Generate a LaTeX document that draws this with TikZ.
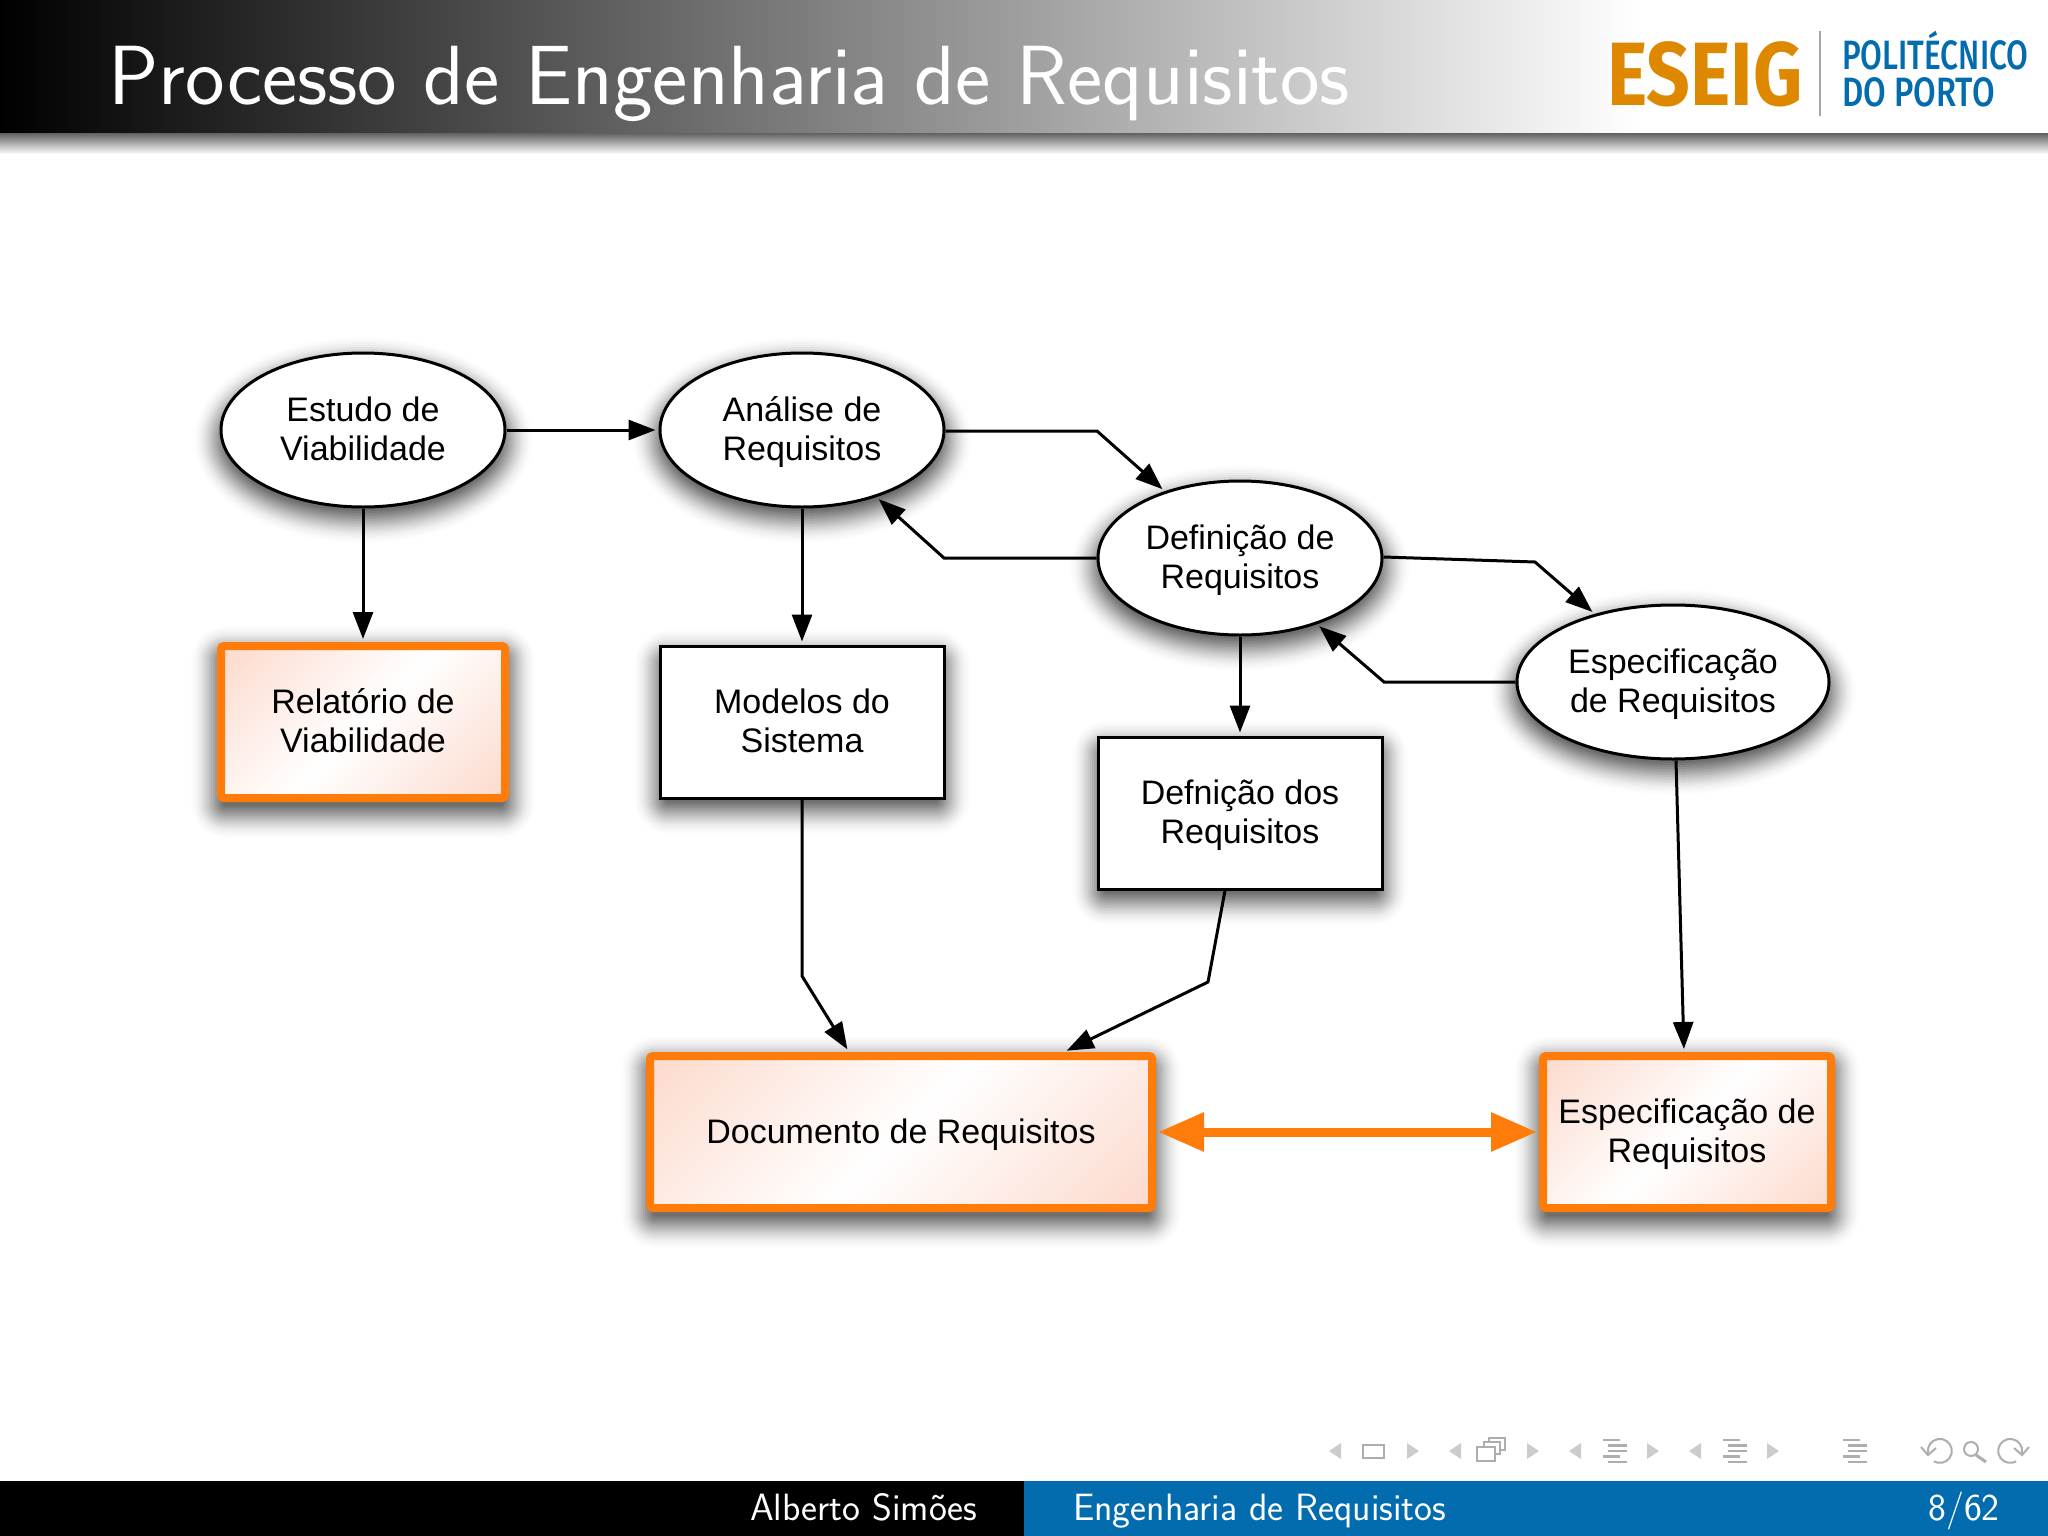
\documentclass[tikz,border=0pt]{standalone}
\usepackage{fontspec}
\newfontfamily\diagfont{Liberation Sans}
\newfontfamily\logofont{Fira Sans}
\newfontfamily\polifont{Fira Sans Medium}
\usetikzlibrary{arrows.meta}
\usetikzlibrary{calc}
\usetikzlibrary{shapes.geometric}
\definecolor{laranja}{HTML}{FF7C0A}
\definecolor{rosado}{HTML}{FCDACC}
\definecolor{azul}{HTML}{036CAE}
\definecolor{ouro}{HTML}{DE8800}
\definecolor{navcinza}{HTML}{AEAEAE}
\definecolor{navclaro}{HTML}{CCCCCC}
\pgfdeclareverticalshading{rosa}{100bp}{color(0bp)=(rosado); color(15bp)=(rosado); color(50bp)=(white);
  color(85bp)=(rosado); color(100bp)=(rosado)}
\newcommand{\topo}{\rule{0pt}{32pt}}
\newcommand{\fundo}{\rule[-10pt]{0pt}{10pt}}
\newcommand{\duas}[2]{\topo #1\\#2\fundo}
\newcommand{\camadas}{26/.008,24/.012,22/.016,20/.02,18/.025,16/.03,14/.035,12/.04,10/.045,8/.05,6/.055,4/.06,2/.065,0/.07,-2/.075,-4/.08,-6/.08}
\newcommand{\sombraelipse}[4]{%
  \foreach \d/\a in \camadas
    \fill[black, opacity=\a] (#1,#2+10) ellipse[x radius=#3+\d, y radius=#4+\d];}
\newcommand{\sombracaixa}[4]{%
  \foreach \d/\a in \camadas
    \fill[black, opacity=\a, rounded corners=(\d+8)*1pt] (#1-#3-\d,#2+10-#4-\d) rectangle (#1+#3+\d,#2+10+#4+\d);}
\tikzset{
  etapa/.style={ellipse, draw, line width=3pt, fill=white, inner sep=0pt, minimum height=154pt,
    align=center, font=\diagfont\fontsize{34}{39}\selectfont},
  doc/.style={rectangle, draw, line width=3pt, fill=white, inner sep=0pt, minimum width=284pt, minimum height=152pt,
    align=center, font=\diagfont\fontsize{34}{39}\selectfont},
  saida/.style={doc, line width=8pt, draw=laranja, rounded corners=3pt, shade, shading=rosa, shading angle=45},
  seta/.style={line width=3pt, -{Triangle[length=27pt,width=20pt]}, shorten >=3pt},
  setadupla/.style={line width=9pt, color=laranja, {Triangle[length=46pt,width=37pt]}-{Triangle[length=46pt,width=37pt]}, shorten >=2pt, shorten <=2pt},
  navlin/.style={navcinza, line width=2.5pt}
}
\begin{document}
\begin{tikzpicture}[x=1pt,y=-1pt]
      \useasboundingbox (0,0) rectangle (2048,1536);
      \fill[white] (0,0) rectangle (2048,1536);

      % barra de titulo
      \fill[top color=black!65, bottom color=white] (0,132) rectangle (2048,154);
      \fill[white] (1630,0) rectangle (2048,133);
      \fill[left color=black, right color=white] (0,0) rectangle (1640,133);
      \node[anchor=west, inner sep=0pt, white, font=\sffamily\fontsize{84}{90}\selectfont] (titulo) at (108,84)
        {Processo de Engenharia de Requisitos};
      \node[anchor=west, inner sep=0pt, ouro, xscale=.85, font=\logofont\bfseries\fontsize{90}{90}\selectfont] (eseig) at (1607,74) {ESEIG};
      \node[anchor=base west, inner sep=0pt, azul, xscale=.77, font=\polifont\fontsize{41}{41}\selectfont] (poli) at (1842,70) {POLITÉCNICO};
      \node[anchor=base west, inner sep=0pt, azul, xscale=.8, font=\polifont\fontsize{41}{41}\selectfont] (porto) at (1842,107) {DO PORTO};
      \draw[gray!70, line width=1.5pt] (1820,31) -- (1820,116);

      % sombras
      \sombraelipse{363}{430}{143.5}{77}
      \sombraelipse{802}{430}{143.5}{77}
      \sombraelipse{1240}{558}{143.5}{77}
      \sombraelipse{1673}{682}{157.5}{77}
      \sombracaixa{363}{722}{146}{80}
      \sombracaixa{802}{722}{142}{76}
      \sombracaixa{1240}{813}{142}{76}
      \sombracaixa{901}{1132}{254}{80}
      \sombracaixa{1687}{1132}{147}{80}

      % nos
      \node[etapa, minimum width=284pt] (estudo) at (363,430) {\duas{Estudo de}{Viabilidade}};
      \node[etapa, minimum width=284pt] (analise) at (802,430) {\duas{Análise de}{Requisitos}};
      \node[etapa, minimum width=284pt] (definicao) at (1240,558) {\duas{Definição de}{Requisitos}};
      \node[etapa, minimum width=312pt] (especificacao) at (1673,682) {\duas{Especificação}{de Requisitos}};
      \node[saida] (relatorio) at (363,722) {\duas{Relatório de}{Viabilidade}};
      \node[doc] (modelos) at (802,722) {\duas{Modelos do}{Sistema}};
      \node[doc] (defreq) at (1240,813) {\duas{Defnição dos}{Requisitos}};
      \node[saida, minimum width=502pt] (documento) at (901,1132) {\topo Documento de Requisitos\fundo};
      \node[saida, minimum width=288pt] (espreq) at (1687,1132) {\duas{Especificação de}{Requisitos}};

      \coordinate (k1) at (1097,431);
      \coordinate (k2) at (944,558);
      \coordinate (k3) at (1535,562);
      \coordinate (k4) at (1384,682);
      \coordinate (k5) at (802,976);
      \coordinate (k6) at (1208,982);

      % setas
      \path[seta] (estudo) edge (analise);
      \path[seta] (estudo) edge (relatorio);
      \path[seta] (analise) edge (modelos);
      \path[seta] (definicao) edge (defreq);
      \path[seta] ([xshift=3pt]especificacao.south) edge ([xshift=-3pt]espreq.north);
      \draw[seta] (analise.east |- k1) -- (k1) -- (definicao);
      \draw[seta] (definicao.west |- k2) -- (k2) -- (analise);
      \draw[seta] ([yshift=1pt]definicao.east) -- (k3) -- (especificacao);
      \draw[seta] (especificacao.west |- k4) -- (k4) -- (definicao);
      \draw[seta] (modelos.south) -- (k5) -- ([xshift=-52pt]documento.north);
      \draw[seta] ([xshift=-15pt]defreq.south) -- (k6) -- ([xshift=163pt]documento.north);
      \path[setadupla] (documento) edge (espreq);

      % rodape
      \fill[black] (0,1481) rectangle (1024,1536);
      \fill[azul] (1024,1481) rectangle (2048,1536);
      \node[anchor=base west, inner sep=0pt, white, font=\sffamily\fontsize{38}{40}\selectfont] (autor) at (750,1520) {Alberto Simões};
      \node[anchor=base west, inner sep=0pt, white, font=\sffamily\fontsize{38}{40}\selectfont] (curso) at (1073,1520) {Engenharia de Requisitos};
      \node[anchor=base east, inner sep=0pt, white, font=\sffamily\fontsize{38}{40}\selectfont] (pagina) at (2000,1520) {8/62};

      % navegacao
      \foreach \xa in {1335,1455,1575,1695}
        \fill[navclaro] (\xa-6,1451) -- (\xa+6,1443) -- (\xa+6,1459) -- cycle;
      \foreach \xa in {1413,1533,1653,1773}
        \fill[navclaro] (\xa+6,1451) -- (\xa-6,1443) -- (\xa-6,1459) -- cycle;
      \draw[navlin] (1363,1445) rectangle (1384,1458);
      \draw[navlin, fill=white] (1489,1438) rectangle (1505,1450);
      \draw[navlin, fill=white] (1484,1442) rectangle (1500,1454);
      \draw[navlin, fill=white] (1477,1447) rectangle (1495,1461);
      \foreach \xa in {1615,1735,1855} {
        \draw[navlin] (\xa-12,1440) -- (\xa+5,1440);
        \draw[navlin] (\xa-7,1445.5) -- (\xa+12,1445.5);
        \draw[navlin] (\xa-7,1451) -- (\xa+12,1451);
        \draw[navlin] (\xa-12,1456.5) -- (\xa+5,1456.5);
        \draw[navlin] (\xa-7,1462) -- (\xa+12,1462);
      }
      \draw[navlin, line width=2pt] (1928,1453) arc[start angle=190, end angle=-120, radius=12pt];
      \draw[navlin, line width=2pt] (1921,1447) -- (1928,1455) -- (1936,1448);
      \draw[navlin, line width=2pt] (1971,1449) circle[radius=7pt];
      \draw[navlin, line width=3pt] (1976,1455) -- (1986,1462);
      \draw[navlin, line width=2pt] (2022,1453) arc[start angle=-10, end angle=300, radius=12pt];
      \draw[navlin, line width=2pt] (2029,1447) -- (2022,1455) -- (2014,1448);
    \end{tikzpicture}
\end{document}
